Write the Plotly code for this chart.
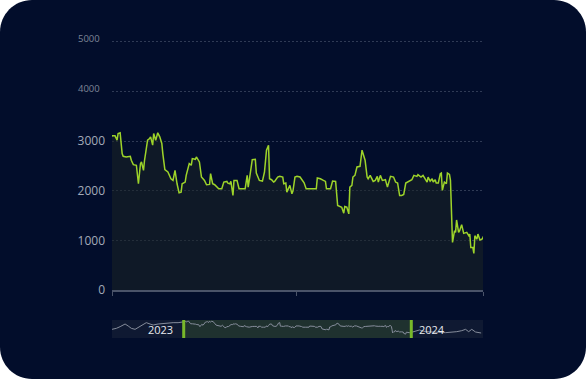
import pandas as pd
import plotly.graph_objects as go

# ---- data: day offset from 2023-01-01 and value ----
day_offsets = [
    -115, -108, -102, -94, -89, -84, -78, -73, -68, -60, -54, -49, -41, -33, -25, -17, -9, -4,
    0, 3, 5, 6, 8, 10, 11, 14, 18, 19, 21, 24, 26, 28, 29, 31, 32, 35, 37, 38, 40, 41, 43, 45, 47,
    49, 50, 52, 55, 58, 60, 62, 64, 66, 68, 69, 72, 73, 76, 78, 79, 82, 83, 86, 88, 91, 93, 96, 97,
    99, 101, 105, 108, 110, 113, 114, 116, 117, 119, 120, 123, 125, 128, 131, 133, 134, 136, 138,
    141, 142, 145, 148, 150, 152, 154, 155, 157, 159, 160, 163, 165, 168, 169, 171, 172, 174, 175,
    177, 178, 180, 182, 185,
    189, 191, 195, 201, 202, 205, 208, 210, 211, 215, 217, 220, 222, 224, 226, 228, 229, 231, 233,
    234, 236, 237, 239, 241, 244, 246, 247, 249, 251, 252, 254, 257, 259, 261, 262, 264, 266, 269,
    271, 273, 274, 277, 279, 281, 283, 285, 287, 289, 292, 295, 297, 300, 301, 304, 306, 308, 310,
    311, 313, 315, 316, 318, 319, 321, 323, 324, 325, 327, 329, 330, 332, 333, 334, 335, 337, 338,
    339, 341, 342, 344, 346, 349, 351, 352, 353, 355, 356, 357, 359, 360, 362, 364, 365,
    370, 378, 388, 399, 409, 420, 430, 438, 446, 452, 457, 462, 468, 477,
]
values = [
    1637, 1826, 2141, 2644, 2267, 1826, 1637, 2015, 2456, 2896, 2644, 2456, 2644, 2770, 2770, 2896, 2896, 2959,
    3108, 3108, 3020, 3155, 3169, 2750, 2696, 2682, 2696, 2615, 2527, 2514, 2142, 2547, 2581, 2412, 2615, 3020, 3054, 3088, 2919, 3155, 3020, 3169, 3088,
    2953, 2750, 2426, 2378, 2243, 2209, 2412, 2142, 1959, 1973, 2142, 2176, 2311, 2547, 2514, 2649, 2635, 2682, 2581, 2277, 2209, 2122, 2128, 2345,
    2142, 2122, 2041, 2041, 2176, 2189, 2155, 2142, 2189, 1905, 2209, 2209, 2041, 2041, 2041, 2311, 2074, 2345, 2628,
    2635, 2358, 2209, 2196, 2378, 2818, 2919, 2243, 2223, 2176, 2189, 2277, 2291, 2277, 2142, 2155, 1973, 2074, 2108,
    1939, 1993, 2277, 2291, 2277,
    2162, 2041, 2041, 2041, 2257, 2243, 2209, 2189, 2041, 2041, 2196, 2189, 1703, 1682, 1669, 1547, 1682, 1669, 1534,
    2074, 2108, 2277, 2311, 2480, 2493, 2818, 2750, 2615, 2277, 2243, 2311, 2189, 2209, 2291, 2176, 2311, 2209, 2223,
    2074, 2209, 2291, 2277, 2176, 2155, 1905, 1905, 1926, 2155, 2189, 2223, 2311, 2291, 2324, 2277, 2311, 2243, 2176,
    2277, 2196, 2243, 2176, 2223, 2155, 2155, 2345, 2358, 2007, 2176, 2142, 2358, 2331, 2209, 1669, 959, 1196, 1162,
    1412, 1162, 1196, 1318, 1142, 1162, 1095, 1128, 858, 858, 736, 1095, 1027, 1128, 1007, 1027, 1061,
    1250, 1511, 1196, 1070, 1070, 1007, 1070, 1196, 1385, 1637, 1196, 1637, 1133, 944,
]
base_date = "2023-01-01"
view_range = ["2023-01-01", "2024-01-01"]
full_range = ["2022-09-08", "2024-04-25"]
x_tick_vals = ["2023-01-01", "2023-07-02", "2024-01-01"]
y_tick_vals = [0, 1000, 2000, 3000, 4000, 5000]
y_tick_text = ["0", "1000", "2000", "3000", "", ""]
small_labels = [4000, 5000]
slider_labels = ["2023", "2024"]

dates = pd.Timestamp(base_date) + pd.to_timedelta(day_offsets, unit="D")

# ---- layout geometry ----
W, H = 586, 379
ML, MR, MT, MB = 112, 103, 37, 41
PW, PH = W - ML - MR, H - MT - MB
Y_TOP = 5100

BG = "#020d2b"
LIME = "#9dd32a"
FONT = "Open Sans"

fig = go.Figure()
fig.add_trace(go.Scatter(
    x=dates, y=values, mode="lines", xaxis="x", yaxis="y",
    line=dict(color=LIME, width=1.5), fill="tozeroy",
    fillcolor="rgba(28,36,36,0.55)", hoverinfo="skip", showlegend=False,
))
fig.add_trace(go.Scatter(
    x=dates, y=values, mode="lines", xaxis="x2", yaxis="y2",
    line=dict(color="#868d9c", width=1), hoverinfo="skip", showlegend=False,
))

# rounded card background
def rounded_path(hw, hh, r):
    k = 0.5523 * r
    return (f"M {-hw + r},{-hh} L {hw - r},{-hh} "
            f"C {hw - r + k},{-hh} {hw},{-hh + r - k} {hw},{-hh + r} "
            f"L {hw},{hh - r} C {hw},{hh - r + k} {hw - r + k},{hh} {hw - r},{hh} "
            f"L {-hw + r},{hh} C {-hw + r - k},{hh} {-hw},{hh - r + k} {-hw},{hh - r} "
            f"L {-hw},{-hh + r} C {-hw},{-hh + r - k} {-hw + r - k},{-hh} {-hw + r},{-hh} Z")

cx = (W / 2 - ML) / PW
cy = (H - MB - H / 2) / PH
shapes = [
    dict(type="path", xref="paper", yref="paper", xsizemode="pixel", ysizemode="pixel",
         xanchor=cx, yanchor=cy, path=rounded_path(W / 2, H / 2, 32),
         fillcolor=BG, line=dict(width=0), layer="below"),
    # slider background
    dict(type="rect", xref="x2 domain", yref="y2 domain", x0=0, x1=1, y0=0, y1=1,
         fillcolor="#0f1932", line=dict(width=0), layer="below"),
    # selected window
    dict(type="rect", xref="x2", yref="y2 domain", x0=view_range[0], x1=view_range[1], y0=0, y1=1,
         fillcolor="rgba(120,180,40,0.16)", line=dict(width=0), layer="below"),
    dict(type="line", xref="x2", yref="y2 domain", x0=view_range[0], x1=view_range[0], y0=0, y1=1,
         line=dict(color="#78b82a", width=3)),
    dict(type="line", xref="x2", yref="y2 domain", x0=view_range[1], x1=view_range[1], y0=0, y1=1,
         line=dict(color="#78b82a", width=3)),
]

annotations = []
for v in small_labels:
    annotations.append(dict(
        xref="paper", yref="y", x=(76 - ML) / PW, y=v, xanchor="left", yanchor="middle",
        yshift=3, text=str(v), showarrow=False,
        font=dict(family=FONT, size=9.5, color="#7d8597"),
    ))
annotations.append(dict(xref="x2", yref="y2 domain", x=view_range[0], y=0.5, xanchor="right",
                        xshift=-9, text=slider_labels[0], showarrow=False,
                        font=dict(family=FONT, size=11, color="#e8eaee")))
annotations.append(dict(xref="x2", yref="y2 domain", x=view_range[1], y=0.5, xanchor="left",
                        xshift=6, text=slider_labels[1], showarrow=False,
                        font=dict(family=FONT, size=11, color="#e8eaee")))

fig.update_layout(
    width=W, height=H, margin=dict(l=ML, r=MR, t=MT, b=MB),
    paper_bgcolor="white", plot_bgcolor="rgba(0,0,0,0)",
    font=dict(family=FONT, color="#a3aab8"),
    shapes=shapes, annotations=annotations, hovermode=False,
    xaxis=dict(type="date", range=view_range, domain=[0, 1], anchor="y",
               showticklabels=False, showgrid=False, zeroline=False,
               showline=True, linecolor="#4a5369", linewidth=2,
               ticks="outside", ticklen=4, tickcolor="#4a5369", tickwidth=1,
               tickvals=x_tick_vals, fixedrange=True),
    yaxis=dict(range=[0, Y_TOP], domain=[(H - MB - 290) / PH, 1], anchor="x",
               tickvals=y_tick_vals, ticktext=y_tick_text,
               tickfont=dict(family=FONT, size=12, color="#a3aab8"),
               showgrid=True, gridcolor="#2f3a55", gridwidth=1, griddash="2px,2px",
               zeroline=False, showline=False, ticks="", ticklabelstandoff=6, fixedrange=True),
    xaxis2=dict(type="date", range=full_range, domain=[0, 1], anchor="y2",
                visible=False, fixedrange=True),
    yaxis2=dict(range=[0, 3400], domain=[0, (H - MB - 320) / PH], anchor="x2",
                visible=False, fixedrange=True),
)

fig.write_html("out.html", config={"displayModeBar": False},
               post_script="document.body.style.margin='0px';document.body.style.padding='0px';")
